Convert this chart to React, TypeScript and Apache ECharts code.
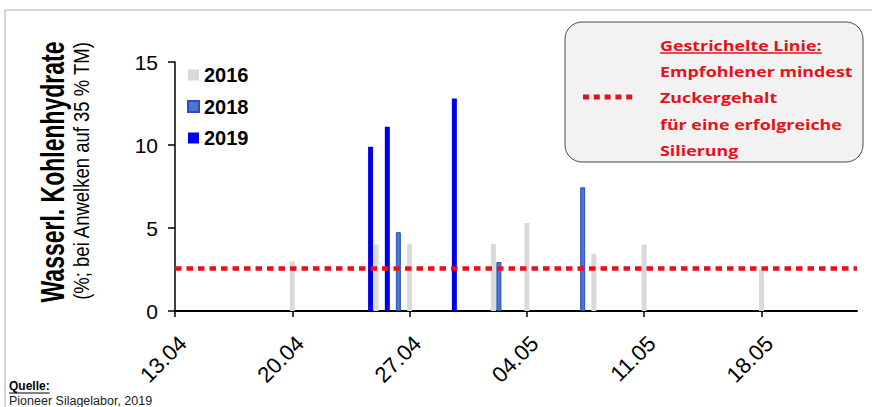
import React, { useEffect, useRef } from "react";
import * as echarts from "echarts";

// ---- data ----
const axisStartDate = "13.04";
const axisSpanDays = 40.7;
const xTickLabels = ["13.04", "20.04", "27.04", "04.05", "11.05", "18.05"];
const yTicks = [0, 5, 10, 15];

const dates2016 = ["20.04", "25.04", "27.04", "02.05", "04.05", "08.05", "11.05", "18.05"];
const values2016 = [3.0, 4.0, 4.05, 4.05, 5.3, 3.45, 4.0, 2.5];
const dates2018 = ["26.04", "02.05", "07.05"];
const values2018 = [4.75, 2.95, 7.45];
const dates2019 = ["25.04", "26.04", "30.04"];
const values2019 = [9.9, 11.1, 12.8];

const thresholdValue = 2.6;

const boxLines = [
  "Gestrichelte Linie:",
  "Empfohlener mindest",
  "Zuckergehalt",
  "für eine erfolgreiche",
  "Silierung",
];
const yTitle = "Wasserl. Kohlenhydrate";
const ySubtitle = "(%; bei Anwelken auf 35 % TM)";
const sourceLabel = "Quelle:";
const sourceText = "Pioneer Silagelabor, 2019";

// ---- helpers ----
const toTs = (s: string) => {
  const [d, m] = s.split(".").map(Number);
  return Date.UTC(2019, m - 1, d);
};
const DAY = 86400000;
const dayOf = (s: string) => Math.round((toTs(s) - toTs(axisStartDate)) / DAY);
const fmtDay = (v: number) => {
  const t = new Date(toTs(axisStartDate) + Math.round(v) * DAY);
  const dd = String(t.getUTCDate()).padStart(2, "0");
  const mm = String(t.getUTCMonth() + 1).padStart(2, "0");
  return `${dd}.${mm}`;
};
const pairs = (dates: string[], vals: number[]) => dates.map((d, i) => [dayOf(d), vals[i]]);

const measure = (text: string, font: string) => {
  const c = document.createElement("canvas").getContext("2d");
  if (!c) return text.length * 8;
  c.font = font;
  return c.measureText(text).width;
};

const RED = "#e8101a";
const ARIAL = '"Liberation Sans", Arial, sans-serif';

export default function App() {
  const ref = useRef<HTMLDivElement>(null);
  useEffect(() => {
    if (!ref.current) return;
    const chart = echarts.init(ref.current, undefined, { renderer: "svg" });
    const tickDays = xTickLabels.map(dayOf);

    const boxFont = 'bold 15px "Open Sans", sans-serif';
    const boxScaleX = 1.19;
    const boxX = 660;
    const boxY0 = 45;
    const boxLH = 26.2;
    const underlineW = measure(boxLines[0], boxFont) * boxScaleX;
    const quelleFont = `bold 12px ${ARIAL}`;
    const quelleW = measure(sourceLabel, quelleFont);

    const txt = (align: string, vAlign: string) => ({
      align, verticalAlign: vAlign, textAlign: align, textVerticalAlign: vAlign,
    });

    const graphic: any[] = [
      // frame
      { type: "line", shape: { x1: 5, y1: 10, x2: 872, y2: 10 }, style: { stroke: "#c8c8c8", lineWidth: 1.5 }, silent: true },
      { type: "line", shape: { x1: 5, y1: 10, x2: 5, y2: 407 }, style: { stroke: "#c8c8c8", lineWidth: 1.5 }, silent: true },
      // y titles
      {
        type: "text", x: 52, y: 172, rotation: Math.PI / 2, scaleY: 1.45,
        style: { text: yTitle, font: `bold 23px ${ARIAL}`, fill: "#000", ...txt("center", "middle") },
      },
      {
        type: "text", x: 82, y: 171, rotation: Math.PI / 2, scaleY: 1.15,
        style: { text: ySubtitle, font: `18.5px ${ARIAL}`, fill: "#000", ...txt("center", "middle") },
      },
      // annotation box
      {
        type: "rect", shape: { x: 565, y: 22, width: 298, height: 140, r: 17 },
        style: { fill: "#f2f2f2", stroke: "#4a4a4a", lineWidth: 1 }, z: 10,
      },
      {
        type: "line", shape: { x1: 583, y1: 97, x2: 633, y2: 97 },
        style: { stroke: RED, lineWidth: 5, lineDash: [6, 4.8] }, z: 11,
      },
      ...boxLines.map((t, i) => ({
        type: "text", x: boxX, y: boxY0 + i * boxLH, z: 11, scaleX: boxScaleX,
        style: { text: t, font: boxFont, fill: RED, ...txt("left", "middle") },
      })),
      {
        type: "line", shape: { x1: boxX, y1: 53, x2: boxX + underlineW, y2: 53 },
        style: { stroke: RED, lineWidth: 1.5 }, z: 11,
      },
      // source
      {
        type: "text", x: 9, y: 386,
        style: { text: sourceLabel, font: quelleFont, fill: "#000", ...txt("left", "middle") },
      },
      { type: "line", shape: { x1: 9, y1: 393, x2: 9 + quelleW, y2: 393 }, style: { stroke: "#000", lineWidth: 1 } },
      {
        type: "text", x: 9, y: 401,
        style: { text: sourceText, font: `12.5px ${ARIAL}`, fill: "#222", ...txt("left", "middle") },
      },
    ];

    chart.setOption({
      animation: false,
      backgroundColor: "#ffffff",
      grid: { left: 175, top: 62, right: 15, bottom: 96, containLabel: false },
      legend: {
        data: ["2016", "2018", "2019"],
        orient: "vertical",
        left: 187,
        top: 65,
        padding: 0,
        itemWidth: 11,
        itemHeight: 11,
        itemGap: 11.5,
        icon: "rect",
        selectedMode: false,
        textStyle: { fontFamily: ARIAL, fontWeight: "bold", fontSize: 20, color: "#000", lineHeight: 20 },
      },
      xAxis: {
        type: "value",
        min: 0,
        max: axisSpanDays,
        interval: 7,
        splitLine: { show: false },
        axisLine: { show: true, lineStyle: { color: "#000", width: 2 } },
        axisTick: { show: true, inside: false, length: 6, lineStyle: { color: "#000", width: 1.5 }, customValues: tickDays },
        axisLabel: {
          customValues: tickDays,
          formatter: (v: number) => fmtDay(v),
          rotate: 45,
          margin: 21,
          verticalAlign: "top",
          fontFamily: ARIAL,
          fontSize: 22,
          color: "#000",
        },
      },
      yAxis: {
        type: "value",
        min: yTicks[0],
        max: yTicks[yTicks.length - 1],
        interval: 5,
        splitLine: { show: false },
        axisLine: { show: true, lineStyle: { color: "#000", width: 1.5 } },
        axisTick: { show: true, inside: false, length: 7, lineStyle: { color: "#000", width: 1.5 } },
        axisLabel: { margin: 17, fontFamily: ARIAL, fontSize: 21, color: "#000" },
      },
      series: [
        {
          name: "2019", type: "bar", barWidth: 5, barGap: "10%",
          data: pairs(dates2019, values2019),
          itemStyle: { color: "#0000e8" },
        },
        {
          name: "2016", type: "bar", barWidth: 5, barGap: "10%",
          data: pairs(dates2016, values2016),
          itemStyle: { color: "#d9d9d9" },
        },
        {
          name: "2018", type: "bar", barWidth: 5, barGap: "10%",
          data: pairs(dates2018, values2018),
          itemStyle: { color: "#4f74cc", borderColor: "#2a4cc4", borderWidth: 1 },
        },
        {
          name: "threshold", type: "line", data: [], z: 20,
          markLine: {
            silent: true,
            symbol: ["none", "none"],
            label: { show: false },
            lineStyle: { color: RED, width: 4.5, type: [6.5, 5] },
            data: [{ yAxis: thresholdValue }],
          },
        },
      ],
      graphic,
    });
    return () => chart.dispose();
  }, []);
  return <div ref={ref} style={{ position: "fixed", left: 0, top: 0, width: 872, height: 407 }} />;
}
